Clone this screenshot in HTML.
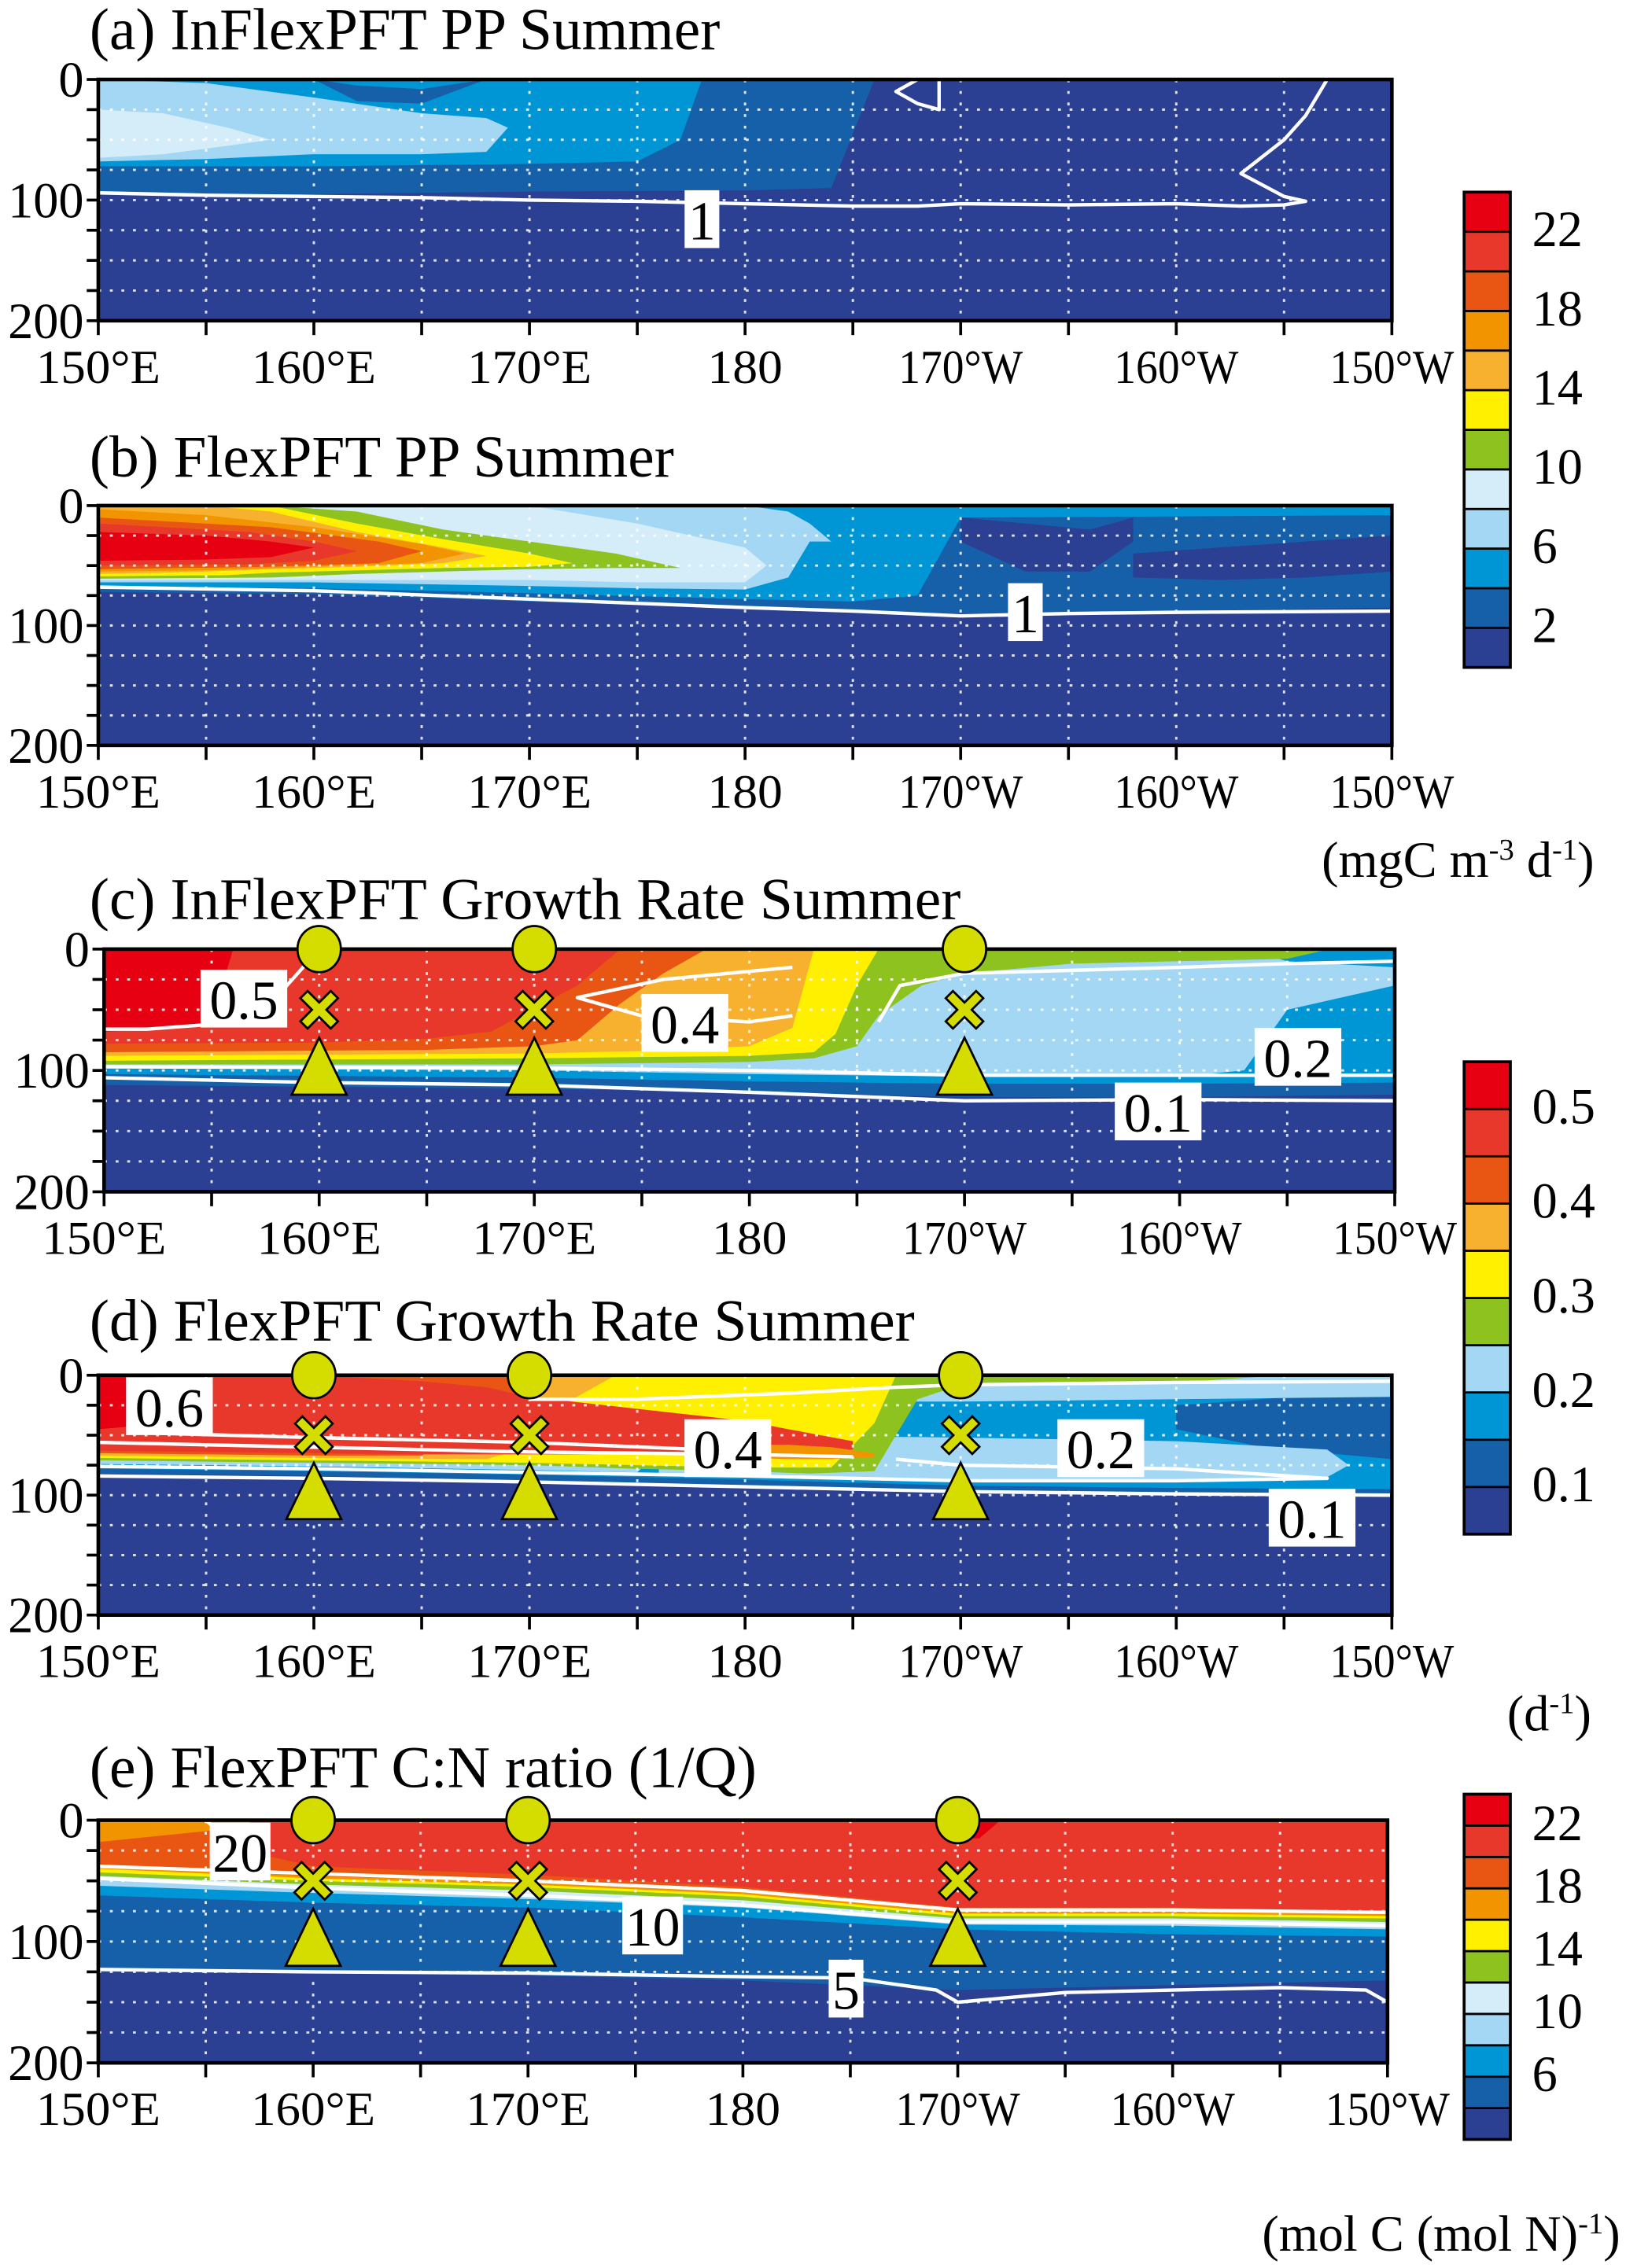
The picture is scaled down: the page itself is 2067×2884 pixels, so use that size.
<!DOCTYPE html>
<html><head><meta charset="utf-8"><style>
html,body{margin:0;padding:0;background:#fff}
svg{display:block}
text{font-family:"Liberation Serif",serif;fill:#000}
</style></head><body>
<svg id="fig" width="2067" height="2884" viewBox="0 0 1125 1570" preserveAspectRatio="none" xmlns="http://www.w3.org/2000/svg"></svg>
<script>
// ---- colours ----
const NAVY="#2b3f93",DB="#1560a8",BL="#0096d6",LB="#a3d7f3",PL="#d5edf9",GR="#8dc21f",YE="#fff000",LO="#f7b12f",OR="#f29400",ORR="#e95513",RD="#e8382c",BR="#e60012";
// ---- data: colour bands (lon degE, top depth, bottom depth) ----
const bandsA=[
 {c:DB,lon:[150,160,170,180,184,186],top:[0,0,0,0,0,0],bot:[95,95,93,92,90,0]},
 {c:BL,lon:[150,160,170,175,177,178],top:[0,0,0,0,0,0],bot:[72,72,70,68,50,0]},
 {c:DB,lon:[160,162,165,168],top:[0,5,8,0],bot:[0,18,20,0]},
 {c:LB,lon:[150,155,160,165,168,169],top:[0,3,15,28,32,40],bot:[68,66,62,62,60,40]},
 {c:PL,lon:[150,153,156,158],top:[25,28,40,50],bot:[65,62,55,50]}
];
const bandsB=[
 {c:DB,lon:[150,160,170,180,190,200,210],top:[0,0,0,0,0,0,0],bot:[72,74,80,86,90,88,85]},
 {c:BL,lon:[150,160,170,180,185,188,190,210],top:[0,0,0,0,0,0,0,0],bot:[67,69,73,78,80,75,10,8]},
 {c:NAVY,lon:[190,193,196,198],top:[10,15,20,10],bot:[30,55,55,30]},
 {c:NAVY,lon:[198,202,206,210],top:[40,35,30,25],bot:[60,62,60,55]},
 {c:LB,lon:[150,160,170,175,180,182,183,184],top:[0,0,0,0,0,5,15,30],bot:[64,64,67,69,70,60,30,30]},
 {c:PL,lon:[150,160,170,175,180,181],top:[0,0,0,15,35,50],bot:[62,62,62,64,64,50]},
 {c:GR,lon:[150,158,162,166,170,174,177],top:[0,0,5,20,30,40,52],bot:[61,60,57,55,53,52,52]},
 {c:YE,lon:[150,156,158,162,166,170,172],top:[0,0,0,15,28,40,48],bot:[59,58,56,54,52,51,48]},
 {c:LO,lon:[150,153,155,158,162,166,168],top:[0,0,0,5,22,35,42],bot:[57,56,55,53,51,48,42]},
 {c:OR,lon:[150,155,160,165,167],top:[3,8,18,32,40],bot:[55,54,51,48,40]},
 {c:ORR,lon:[150,158,163,165],top:[10,18,30,38],bot:[53,51,48,38]},
 {c:RD,lon:[150,157,160,162],top:[15,22,30,38],bot:[50,49,46,38]},
 {c:BR,lon:[150,155,158,160],top:[22,25,30,35],bot:[46,45,43,35]}
];
const bandsC=[
 {c:DB,lon:[150,170,180,190,200,210],top:[0,0,0,0,0,0],bot:[112,115,118,122,122,120]},
 {c:BL,lon:[150,170,180,190,200,210],top:[0,0,0,0,0,0],bot:[103,106,109,111,111,110]},
 {c:LB,lon:[150,170,180,190,200,203,205,210],top:[0,0,0,0,0,0,10,15],bot:[98,100,103,105,105,100,50,30]},
 {c:GR,lon:[150,170,180,183,185,186,188,190,195,200,205,207],top:[0,0,0,0,0,0,0,0,0,0,0,0],bot:[95,95,93,90,80,55,30,20,12,10,8,0]},
 {c:YE,lon:[150,170,180,183,184,185,186],top:[0,0,0,0,0,0,0],bot:[92,90,88,85,70,30,0]},
 {c:LO,lon:[150,170,175,180,182,183],top:[0,0,0,0,0,0],bot:[88,86,84,80,65,0]},
 {c:ORR,lon:[150,165,170,172,174,176,178],top:[0,0,0,0,0,0,0],bot:[85,83,80,75,45,20,0]},
 {c:RD,lon:[150,160,165,168,172,174],top:[0,0,0,0,0,0],bot:[78,77,74,68,30,0]},
 {c:BR,lon:[150,153,155,156],top:[0,0,0,0],bot:[68,66,60,0]}
];
const bandsD=[
 {c:DB,lon:[150,160,170,180,190,200,210],top:[0,0,0,0,0,0,0],bot:[82,84,88,92,96,98,100]},
 {c:BL,lon:[150,160,170,180,190,200,210],top:[0,0,0,0,0,0,0],bot:[78,80,83,87,92,94,95]},
 {c:DB,lon:[200,204,207,210],top:[25,20,15,15],bot:[45,60,65,70]},
 {c:LB,lon:[150,160,170,175,178,180,190,200,210],top:[0,0,0,0,0,0,0,0,0],bot:[74,76,79,81,30,22,22,20,18]},
 {c:LB,lon:[176,180,190,200,207,208],top:[55,50,52,55,62,75],bot:[82,84,88,88,85,75]},
 {c:GR,lon:[150,170,175,180,183,186,188,190,200,205],top:[0,0,0,0,0,0,0,0,0,0],bot:[71,75,78,80,82,80,20,8,6,0]},
 {c:YE,lon:[150,160,170,175,180,184,186,187],top:[0,0,0,0,0,0,0,0],bot:[69,71,73,75,77,77,40,0]},
 {c:LO,lon:[150,160,168,170,172,174],top:[0,0,0,0,0,0],bot:[67,69,70,60,20,0]},
 {c:ORR,lon:[150,160,165,168,170],top:[0,0,0,0,0],bot:[65,67,67,40,0]},
 {c:RD,lon:[150,160,165,168,170,175,180,182,185],top:[0,0,5,10,18,28,38,45,55],bot:[63,65,66,66,66,66,66,66,62]},
 {c:OR,lon:[179,182,184,186],top:[58,58,60,65],bot:[68,70,70,68]},
 {c:BR,lon:[150,152,154],top:[0,0,5],bot:[45,42,30]}
];
const bandsE=[
 {c:DB,lon:[150,160,170,180,190,200,210],top:[0,0,0,0,0,0,0],bot:[125,126,128,132,140,136,132]},
 {c:BL,lon:[150,160,170,180,190,200,210],top:[0,0,0,0,0,0,0],bot:[62,68,72,80,90,94,96]},
 {c:LB,lon:[150,160,170,180,190,200,210],top:[0,0,0,0,0,0,0],bot:[54,60,65,72,86,87,90]},
 {c:PL,lon:[150,160,170,180,190,200,210],top:[0,0,0,0,0,0,0],bot:[49,56,61,69,83,84,87]},
 {c:GR,lon:[150,160,170,180,190,200,210],top:[0,0,0,0,0,0,0],bot:[46,53,58,66,81,81,84]},
 {c:YE,lon:[150,160,170,180,190,200,210],top:[0,0,0,0,0,0,0],bot:[43,50,55,63,79,79,81]},
 {c:OR,lon:[150,160,170,180,190,200,210],top:[0,0,0,0,0,0,0],bot:[40,48,53,61,77,77,79]},
 {c:ORR,lon:[150,160,170,180,190,200,210],top:[18,0,0,0,0,0,0],bot:[38,46,51,59,75,75,77]},
 {c:RD,lon:[157,158,160,170,180,190,200,210],top:[0,0,0,0,0,0,0,0],bot:[0,30,38,45,55,72,72,75]},
 {c:BR,lon:[189,190,191,192],top:[0,0,0,0],bot:[0,15,15,0]}
];
// ---- data: white contour lines ----
const linesA=[{lon:[150,155,160,165,170,175,180,185,188,190,195,200,203,205,206,205,203,205,206,207],d:[94,96,97,98,100,101,103,105,105,103,104,103,105,104,101,97,78,50,30,0]},
 {lon:[188,187,188,189,189],d:[0,10,20,25,0]}];
const linesB=[{lon:[150,160,170,180,185,190,195,200,210],d:[68,71,78,85,88,92,90,89,88]}];
const linesC=[{lon:[150,160,170,180,190,200,210],d:[106,110,112,118,125,124,125]},
 {lon:[150,170,180,185,190,200,210],d:[97,98,100,102,104,104,104]},
 {lon:[150,152,155,158,160],d:[66,66,62,40,0]},
 {lon:[182,176,172,175,180,182],d:[15,25,40,55,60,55]},
 {lon:[186,187,190,200,205,210],d:[60,30,20,15,12,10]}];
const linesD=[{lon:[150,160,170,180,190,200,210],d:[84,86,89,93,97,99,100]},
 {lon:[150,160,170,180,190,200,207,200,190,187],d:[76,78,81,84,88,88,86,78,75,70]},
 {lon:[150,160,170,180,185],d:[56,60,64,66,68]},
 {lon:[152,160,170,178],d:[48,52,56,62]},
 {lon:[170,175,182,187,190,200,210],d:[20,20,15,10,8,6,5]}];
const linesE=[{lon:[150,160,170,180,185,189,190,195,200,205,209,210],d:[123,125,126,129,130,140,150,142,140,138,140,150]},
 {lon:[150,160,170,180,190,200,210],d:[48,56,62,70,84,84,87]},
 {lon:[150,160,170,180,190,200,210],d:[38,44,50,58,74,74,76]},
 {lon:[155,156,158],d:[0,15,25]}];
// ---- data: tick labels, colorbar labels ----
const xTickLabels=["150\u00b0E","160\u00b0E","170\u00b0E","180","170\u00b0W","160\u00b0W","150\u00b0W"];
const xTickLons=[150,160,170,180,190,200,210];
const yTickLabels=["0","100","200"];
const yTickDepths=[0,100,200];
const markerLons=[160,170,190];
const cb1Labels=["22","18","14","10","6","2"];
const cb2Colors=[NAVY,DB,BL,LB,GR,YE,LO,ORR,RD,BR];
const cb2Labels=["0.5","0.4","0.3","0.2","0.1"];
const cb3Colors=[NAVY,DB,BL,LB,PL,GR,YE,OR,ORR,RD,BR];
const cb3Labels=["22","18","14","10","6"];

const NS="http://www.w3.org/2000/svg";
const svg=document.getElementById('fig');
function mk(tag,attrs,parent){const e=document.createElementNS(NS,tag);for(const k in attrs)e.setAttribute(k,attrs[k]);(parent||svg).appendChild(e);return e;}

function panel(p){
 const g=mk('g',{});
 
 
 const X=lon=>p.x0+(lon-150)/60*(p.x1-p.x0);
 const Y=d=>p.y0+d/200*(p.y1-p.y0);
 const t=mk('text',{x:62,y:p.ty,'font-size':41},g);t.textContent=p.title;
 
 const bg=mk('rect',{x:p.x0,y:p.y0,width:p.x1-p.x0,height:p.y1-p.y0,fill:NAVY},g);
 
 p.bands.forEach(b=>{
  let pts=b.lon.map((l,i)=>X(l)+','+Y(b.top[i]));
  for(let i=b.lon.length-1;i>=0;i--)pts.push(X(b.lon[i])+','+Y(b.bot[i]));
  const e=mk('polygon',{points:pts.join(' '),fill:b.c},g);
  
 });
 for(let l=155;l<210;l+=5){const e=mk('line',{x1:X(l),x2:X(l),y1:p.y0,y2:p.y1,stroke:'#fff','stroke-width':1.6,'stroke-dasharray':'2 6',opacity:.85},g);}
 for(let d=25;d<200;d+=25){const e=mk('line',{x1:p.x0,x2:p.x1,y1:Y(d),y2:Y(d),stroke:'#fff','stroke-width':1.6,'stroke-dasharray':'2 6',opacity:.85},g);}
 p.lines.forEach(L=>{const e=mk('polyline',{points:L.lon.map((l,i)=>X(l)+','+Y(L.d[i])).join(' '),fill:'none',stroke:'#fff','stroke-width':2.4,'stroke-linejoin':'round'},g);});
 const f=mk('rect',{x:p.x0,y:p.y0,width:p.x1-p.x0,height:p.y1-p.y0,fill:'none',stroke:'#000','stroke-width':2.5},g);
 
 for(let l=150;l<=210;l+=5)mk('line',{x1:X(l),x2:X(l),y1:p.y1,y2:p.y1+10,stroke:'#000','stroke-width':2},g);
 for(let d=0;d<=200;d+=25)mk('line',{x1:p.x0-8,x2:p.x0,y1:Y(d),y2:Y(d),stroke:'#000','stroke-width':2},g);
 xTickLons.forEach((l,i)=>{const e=mk('text',{x:X(l),y:p.y1+43,'font-size':33,'text-anchor':'middle',textLength:xTickLabels[i].length>3?86:52,lengthAdjust:'spacingAndGlyphs'},g);e.textContent=xTickLabels[i];});
 yTickDepths.forEach((d,i)=>{const e=mk('text',{x:p.x0-10,y:Y(d)+12,'font-size':35,'text-anchor':'end'},g);e.textContent=yTickLabels[i];});
 p.labels.forEach(lb=>{const w=lb.t.length*18+6;mk('rect',{x:X(lb.lon)-w/2,y:Y(lb.d)-21,width:w,height:40,fill:'#fff'},g);
  const e=mk('text',{x:X(lb.lon),y:Y(lb.d)+13,'font-size':38,'text-anchor':'middle'},g);e.textContent=lb.t;});
 if(p.markers){markerLons.forEach(l=>{const cx=X(l);
  const c=mk('ellipse',{cx:cx,cy:p.y0,rx:15,ry:16,fill:'#d4dc00',stroke:'#000','stroke-width':1.5},g);
  const cy=Y(50);const s=13,w=5;
  const x=mk('path',{d:`M${cx-s} ${cy-s+w}L${cx-s+w} ${cy-s}L${cx} ${cy-w}L${cx+s-w} ${cy-s}L${cx+s} ${cy-s+w}L${cx+w} ${cy}L${cx+s} ${cy+s-w}L${cx+s-w} ${cy+s}L${cx} ${cy+w}L${cx-s+w} ${cy+s}L${cx-s} ${cy+s-w}L${cx-w} ${cy}Z`,fill:'#d4dc00',stroke:'#000','stroke-width':1.5},g);
  const tr=mk('polygon',{points:`${cx},${Y(73)} ${cx-19},${Y(120)} ${cx+19},${Y(120)}`,fill:'#d4dc00',stroke:'#000','stroke-width':1.5},g);
 });}
}
function colorbar(name,x,y0,y1,colors,labels,labelStart,step){
 const g=mk('g',{});
 const n=colors.length,h=(y1-y0)/n;
 colors.forEach((c,i)=>{mk('rect',{x:x,y:y1-(i+1)*h,width:32,height:h,fill:c,stroke:'#000','stroke-width':1.5},g);});
 mk('rect',{x:x,y:y0,width:32,height:y1-y0,fill:'none',stroke:'#000','stroke-width':2},g);
 labels.forEach((t,i)=>{const bi=labelStart-i*step;const e=mk('text',{x:x+47,y:y1-bi*h+10,'font-size':35},g);e.textContent=t;});
}
panel({name:'panel-a',title:'(a) InFlexPFT PP Summer',ty:34,x0:68,x1:963,y0:55,y1:222,bands:bandsA,lines:linesA,labels:[{t:'1',lon:178,d:117}]});
panel({name:'panel-b',title:'(b) FlexPFT PP Summer',ty:330,x0:68,x1:963,y0:350,y1:516,bands:bandsB,lines:linesB,labels:[{t:'1',lon:193,d:90}]});
panel({name:'panel-c',title:'(c) InFlexPFT Growth Rate Summer',ty:636,x0:72,x1:965,y0:657,y1:825,bands:bandsC,lines:linesC,labels:[{t:'0.5',lon:156.5,d:42},{t:'0.4',lon:177,d:62},{t:'0.2',lon:205.5,d:90},{t:'0.1',lon:199,d:135}],markers:true});
panel({name:'panel-d',title:'(d) FlexPFT Growth Rate Summer',ty:928,x0:68,x1:963,y0:952,y1:1118,bands:bandsD,lines:linesD,labels:[{t:'0.6',lon:153.3,d:27},{t:'0.4',lon:179.2,d:62},{t:'0.2',lon:196.5,d:62},{t:'0.1',lon:206.3,d:120}],markers:true});
panel({name:'panel-e',title:'(e) FlexPFT C:N ratio (1/Q)',ty:1237,x0:68,x1:960,y0:1260,y1:1428,bands:bandsE,lines:linesE,labels:[{t:'20',lon:156.6,d:27},{t:'10',lon:175.8,d:88},{t:'5',lon:184.8,d:140}],markers:true});
colorbar('colorbar-pp',1013,133,462,[NAVY,DB,BL,LB,PL,GR,YE,LO,OR,ORR,RD,BR],cb1Labels,11,2);
colorbar('colorbar-growth',1013,735,1062,cb2Colors,cb2Labels,9,2);
colorbar('colorbar-cn',1013,1242,1481,cb3Colors,cb3Labels,10,2);
function unit(name,x,y,html){const e=mk('text',{x:x,y:y,'font-size':35,'text-anchor':'end'});e.innerHTML=html;}
unit('unit-pp',1103,607,'(mgC m<tspan dy="-12" font-size="21">-3</tspan><tspan dy="12"> d</tspan><tspan dy="-12" font-size="21">-1</tspan><tspan dy="12">)</tspan>');
unit('unit-growth',1101,1198,'(d<tspan dy="-12" font-size="21">-1</tspan><tspan dy="12">)</tspan>');
unit('unit-cn',1121,1558,'(mol C (mol N)<tspan dy="-12" font-size="21">-1</tspan><tspan dy="12">)</tspan>');
</script>
</body></html>
